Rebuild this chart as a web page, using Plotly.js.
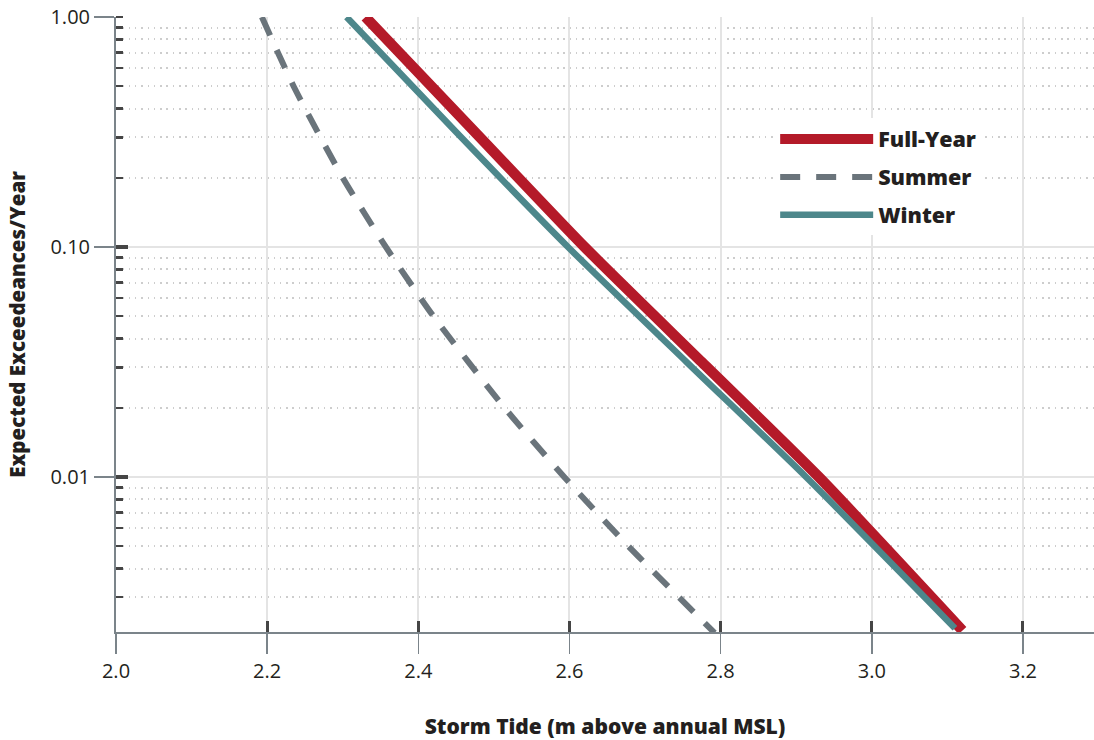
<!DOCTYPE html>
<html>
<head>
<meta charset="utf-8">
<script src="https://cdn.plot.ly/plotly-3.0.1.min.js"></script>
<style>html,body{margin:0;padding:0;background:#fff;}#chart{width:1094px;height:740px;}</style>
</head>
<body>
<div id="chart"></div>
<script>
// Data
const fullYearTide = [2.33, 2.475, 2.62, 2.775, 2.93, 3.12];
const fullYearRate = [1.0, 0.316, 0.1, 0.0316, 0.01, 0.00215];
const summerTide = [2.193, 2.235, 2.300, 2.357, 2.420, 2.514, 2.593, 2.678, 2.792];
const summerRate = [1.0, 0.5, 0.2, 0.1, 0.05, 0.02, 0.01, 0.005, 0.0021];
const winterTide = [2.305, 2.45, 2.598, 2.755, 2.913, 3.11];
const winterRate = [1.0, 0.316, 0.1, 0.0316, 0.01, 0.0022];
const seriesNames = ['Full-Year', 'Summer', 'Winter'];

const FONT = '"Open Sans", Lato, sans-serif';
const axisGray = '#7b848a';
const tickDark = '#454545';
const xRange = [2.0, 3.294];
const yRange = [-2.674, 0];

const traces = [
  {x: fullYearTide, y: fullYearRate, name: seriesNames[0], mode: 'lines', legendgroup: 'a',
   line: {color: '#b41a29', width: 10.5, shape: 'spline', smoothing: 0.6}, xaxis: 'x', yaxis: 'y'},
  {x: summerTide, y: summerRate, name: seriesNames[1], mode: 'lines', legendgroup: 'b',
   line: {color: '#6a747b', width: 6, dash: '20px,16px', shape: 'spline', smoothing: 0.6}, xaxis: 'x', yaxis: 'y'},
  {x: winterTide, y: winterRate, name: seriesNames[2], mode: 'lines', legendgroup: 'c',
   line: {color: '#4d878b', width: 6.5, shape: 'spline', smoothing: 0.6}, xaxis: 'x2', yaxis: 'y2'}
];

const layout = {
  width: 1094, height: 740,
  margin: {l: 116, r: 0, t: 17, b: 108},
  paper_bgcolor: '#fff', plot_bgcolor: '#fff',
  font: {family: FONT, color: '#231f20'},
  showlegend: true,
  legend: {
    x: 0.674, y: 0.835, xanchor: 'left', yanchor: 'top',
    bgcolor: '#fff', borderwidth: 0,
    itemwidth: 93, traceorder: 'grouped', tracegroupgap: 7,
    font: {family: FONT, size: 21.5, weight: 800, color: '#231f20'}
  },
  xaxis: {
    range: xRange, dtick: 0.2, tick0: 2.0, tickformat: '.1f',
    ticks: 'outside', ticklen: 20, tickwidth: 1.5, tickcolor: axisGray,
    showline: true, linecolor: axisGray, linewidth: 2,
    showgrid: true, gridcolor: '#e4e4e4', gridwidth: 2, zeroline: false,
    tickfont: {family: FONT, size: 20, color: '#231f20'},
    title: {text: 'Storm Tide (m above annual MSL)', standoff: 36,
            font: {family: FONT, size: 21, weight: 800, color: '#231f20'}}
  },
  yaxis: {
    type: 'log', range: yRange, dtick: 1, tickformat: '.2f',
    ticks: 'outside', ticklen: 20, tickwidth: 1.5, tickcolor: axisGray,
    showline: true, linecolor: axisGray, linewidth: 2,
    showgrid: true, gridcolor: '#e4e4e4', gridwidth: 2, zeroline: false,
    tickfont: {family: FONT, size: 20, color: '#231f20'},
    minor: {dtick: 'D1', ticks: 'inside', ticklen: 7, tickwidth: 2.5, tickcolor: tickDark,
            showgrid: true, gridcolor: '#cdcdcd', gridwidth: 2, griddash: '1.5px,4.8px'},
    title: {text: 'Expected Exceedeances/Year', standoff: 19,
            font: {family: FONT, size: 20.5, weight: 800, color: '#231f20'}}
  },
  xaxis2: {
    overlaying: 'x', anchor: 'y2', range: xRange, dtick: 0.2, tick0: 2.0,
    ticks: 'inside', ticklen: 11, tickwidth: 3, tickcolor: tickDark,
    showticklabels: false, showgrid: false, showline: false, zeroline: false
  },
  yaxis2: {
    overlaying: 'y', anchor: 'x2', type: 'log', range: yRange, dtick: 1,
    ticks: 'inside', ticklen: 12, tickwidth: 3.5, tickcolor: tickDark,
    showticklabels: false, showgrid: false, showline: false, zeroline: false
  }
};

Plotly.newPlot('chart', traces, layout, {displayModeBar: false, staticPlot: true});
</script>
</body>
</html>
